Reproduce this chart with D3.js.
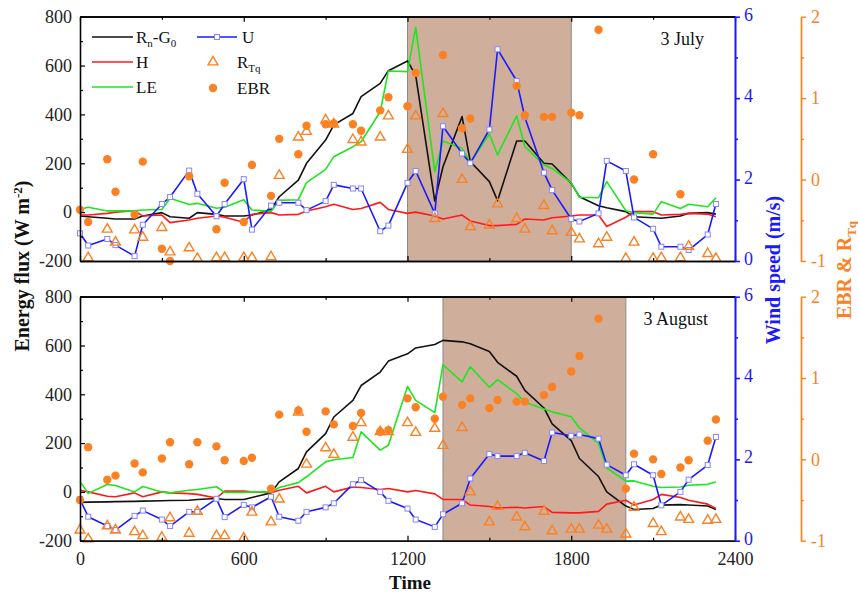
<!DOCTYPE html>
<html>
<head>
<meta charset="utf-8">
<script src="https://cdn.jsdelivr.net/npm/d3@7"></script>
<style>
  body { margin: 0; background: #fff; }
  svg text { font-family: "Liberation Serif", "Times New Roman", serif; }
</style>
</head>
<body>
<div id="chart"></div>
<script>
// time of day (hhmm), half-hour steps
var times = [0,30,100,130,200,230,300,330,400,430,500,530,600,630,700,730,800,830,900,930,
  1000,1030,1100,1130,1200,1230,1300,1330,1400,1430,1500,1530,1600,1630,1700,1730,1800,1830,1900,1930,
  2000,2030,2100,2130,2200,2230,2300,2330];

// 3 July
var rnJul = [-16,-19,-25,-28,-28,-16,-2,-19,-25,-2,-9,-16,-16,-12,11,63,131,200,295,357,
  404,473,527,579,619,560,45,186,391,207,125,47,291,291,200,197,118,63,26,18,
  2,-19,-23,-25,-16,-5,-2,-8];
var hJul = [-12,-12,-5,0,6,-16,-12,-43,-32,-25,-16,-21,-41,-9,-2,-12,-9,5,22,32,
  11,15,40,11,-5,0,-16,-28,-12,-36,-55,-55,-50,-28,-32,-23,-16,-12,-12,-59,
  -21,2,2,-12,-9,-5,-8,-19];
var leJul = [12,20,5,5,5,9,11,57,31,36,16,20,51,9,3,48,51,121,175,227,
  268,288,411,578,575,757,166,291,261,202,320,234,394,268,193,179,120,61,59,125,
  6,-2,-8,43,15,32,22,59];
var uJul = [0.68,0.38,0.54,0.39,0.12,0.89,1.40,1.57,2.22,1.65,1.10,1.40,2.01,0.77,1.36,1.43,1.43,1.25,1.47,1.87,
  1.78,1.78,0.73,0.87,1.92,2.21,1.17,3.31,2.64,2.40,3.23,5.20,4.42,3.53,2.17,1.74,1.03,0.97,1.17,2.46,
  2.21,1.07,0.79,0.35,0.35,0.27,0.65,1.40];
var rtqJul = [null,-0.96,-0.61,-0.77,-0.62,-0.71,-0.59,-0.89,-0.84,-0.97,-0.96,-0.96,-0.96,-0.96,-0.95,0.05,0.52,0.59,0.73,0.68,
  0.49,0.46,0.52,0.78,0.37,0.78,-0.48,0.81,0.0,-0.58,-0.56,-0.30,-0.48,-0.61,-0.32,-0.63,-0.65,-0.73,-0.79,-0.71,
  -0.97,-0.77,-0.97,-0.96,-0.96,-0.82,-0.91,-0.97];
var ebrJul = [-0.37,-0.52,0.25,-0.15,-0.43,0.22,-0.85,-1.0,0.04,null,-0.61,-0.04,-0.52,0.18,-0.20,0.50,0.31,0.66,0.68,0.69,
  0.68,0.60,0.85,1.01,0.90,1.31,null,1.53,0.63,0.75,null,null,1.15,0.79,0.77,0.77,0.82,0.79,1.84,null,
  null,0.0,0.31,null,-0.18,null,null,null];

// 3 August
var rnAug = [-43,-42,-41,-40,-39,-38,-36,-35,-34,-31,-27,-31,-31,-23,-4,41,96,164,239,307,
  375,436,491,536,566,590,604,621,615,607,575,531,474,416,344,279,210,137,63,0,
  -58,-72,-68,-54,-52,-54,-58,-72];
var hAug = [7,0,-18,-20,-4,-20,0,-4,-7,-10,-25,3,3,0,-3,7,23,-4,23,0,
  20,18,10,14,0,6,-8,-31,-31,-54,-60,-66,-63,-66,-60,-84,-86,-86,-80,-50,
  -34,-54,-31,-10,-23,-34,-50,-68];
var leAug = [43,-6,30,26,0,22,0,-4,7,10,21,-2,-2,0,0,18,38,62,123,132,
  141,246,171,191,432,375,325,521,451,513,429,460,403,367,340,328,308,262,199,98,
  44,45,23,18,20,27,31,41];
var uAug = [1.02,0.59,0.36,0.26,0.61,0.74,0.52,0.36,0.71,0.71,1.03,0.58,0.88,0.82,1.08,0.59,0.49,0.71,0.82,0.92,
  1.39,1.49,1.20,0.98,0.79,0.52,0.34,0.65,0.92,1.53,2.13,2.08,2.08,2.16,1.96,2.66,2.58,2.61,2.51,1.87,
  1.61,1.88,1.61,0.87,1.20,1.50,1.86,2.55];
var rtqAug = [-0.87,-0.98,-0.82,-0.87,-0.89,-0.94,-0.96,-0.72,-0.91,-0.64,-0.94,-0.94,-0.97,-0.65,-0.77,-0.49,0.58,-0.06,0.14,0.06,
  0.27,0.45,0.34,0.34,0.45,0.33,0.38,0.17,0.39,-0.40,-0.77,-0.58,-0.71,-0.83,-0.64,-0.88,-0.86,-0.86,-0.81,-0.86,
  -0.92,-0.59,-0.79,-0.89,-0.71,-0.74,-0.75,-0.74];
var ebrAug = [-0.50,0.15,-0.25,-0.20,-0.05,-0.16,0.01,0.21,-0.06,0.21,0.16,-0.01,-0.02,0.02,-0.36,0.55,0.60,0.34,0.59,0.43,
  0.41,0.57,0.34,0.36,0.75,0.64,0.50,0.77,0.67,0.75,0.63,0.73,0.71,0.71,0.79,0.89,1.08,1.27,1.73,null,
  -0.36,0.07,0.00,-0.18,-0.10,-0.01,0.23,0.49];

// shaded periods
var shadeJul = [1200, 1800];
var shadeAug = [1330, 2000];

var xTicks = [0, 600, 1200, 1800, 2400];
var xMinor = [300, 900, 1500, 2100];
var eTicks = [-200, 0, 200, 400, 600, 800];
var eMinor = [-100, 100, 300, 500, 700];
var uTicks = [0, 2, 4, 6];
var uMinor = [1, 3, 5];
var rTicks = [-1, 0, 1, 2];
var rMinor = [-0.5, 0.5, 1.5];

var cBlack = "#111", cRed = "#ff1a1a", cGreen = "#1ee61e", cBlue = "#1a1aff",
    cMark = "#8585ff", cOrange = "#fb8122", cShade = "#d0ae9c";

var svg = d3.select("#chart").append("svg")
    .attr("width", 858)
    .attr("height", 592);

var x = d3.scaleLinear().domain([0, 2400]).range([80, 735]);

var panels = [
  {top: 16.7, bottom: 261, name: "3 July", nameX: 704, nameY: 45, shade: shadeJul,
   rn: rnJul, h: hJul, le: leJul, u: uJul, rtq: rtqJul, ebr: ebrJul, labels: false, legend: true},
  {top: 296.7, bottom: 540.7, name: "3 August", nameX: 708, nameY: 325, shade: shadeAug,
   rn: rnAug, h: hAug, le: leAug, u: uAug, rtq: rtqAug, ebr: ebrAug, labels: true, legend: false}
];

function numFmt(d) { return String(d); }

panels.forEach(function(p) {
  var yE = d3.scaleLinear().domain([-200, 800]).range([p.bottom, p.top]);
  var yU = d3.scaleLinear().domain([0, 6]).range([p.bottom, p.top]);
  var yR = d3.scaleLinear().domain([-1, 2]).range([p.bottom, p.top]);
  var g = svg.append("g");

  // shaded period
  g.append("rect")
    .attr("x", x(p.shade[0])).attr("y", p.top)
    .attr("width", x(p.shade[1]) - x(p.shade[0]))
    .attr("height", p.bottom - p.top)
    .attr("fill", cShade);
  p.shade.forEach(function(t) {
    g.append("line")
      .attr("x1", x(t)).attr("x2", x(t))
      .attr("y1", p.top).attr("y2", p.bottom)
      .attr("stroke", "#8a8a8a").attr("stroke-width", 1);
  });

  // series lines
  var idx = d3.range(times.length);
  function drawLine(vals, scale, color) {
    var line = d3.line()
      .defined(function(i) { return vals[i] != null; })
      .x(function(i) { return x(times[i]); })
      .y(function(i) { return scale(vals[i]); });
    g.append("path").datum(idx)
      .attr("d", line)
      .attr("fill", "none")
      .attr("stroke", color)
      .attr("stroke-width", 1.6)
      .attr("stroke-linejoin", "round");
  }
  drawLine(p.rn, yE, cBlack);
  drawLine(p.h, yE, cRed);
  drawLine(p.le, yE, cGreen);
  drawLine(p.u, yU, cBlue);

  // wind speed markers
  g.selectAll(".sq").data(idx).enter().append("rect")
    .attr("x", function(i) { return x(times[i]) - 2.5; })
    .attr("y", function(i) { return yU(p.u[i]) - 2.5; })
    .attr("width", 5).attr("height", 5)
    .attr("fill", "#fff").attr("stroke", cMark).attr("stroke-width", 1);

  // RTq triangles
  var tri = d3.symbol().type(d3.symbolTriangle).size(42);
  g.selectAll(".tri").data(idx.filter(function(i) { return p.rtq[i] != null; })).enter()
    .append("path")
    .attr("d", tri)
    .attr("transform", function(i) { return "translate(" + x(times[i]) + "," + yR(p.rtq[i]) + ")"; })
    .attr("fill", "none").attr("stroke", cOrange).attr("stroke-width", 1.4);

  // EBR dots
  g.selectAll(".dot").data(idx.filter(function(i) { return p.ebr[i] != null; })).enter()
    .append("circle")
    .attr("cx", function(i) { return x(times[i]); })
    .attr("cy", function(i) { return yR(p.ebr[i]); })
    .attr("r", 4.2)
    .attr("fill", cOrange);

  // frame and axes
  g.append("line").attr("x1", 80).attr("x2", 735).attr("y1", p.top).attr("y2", p.top)
    .attr("stroke", "#333").attr("stroke-width", 1.3);

  g.append("g").attr("transform", "translate(80,0)")
    .call(d3.axisLeft(yE).tickValues(eTicks).tickSize(-5).tickSizeOuter(0).tickPadding(8).tickFormat(numFmt));
  g.append("g").attr("transform", "translate(80,0)")
    .call(d3.axisLeft(yE).tickValues(eMinor).tickSize(-3).tickSizeOuter(0).tickFormat(""));

  g.append("g").attr("transform", "translate(0," + p.bottom + ")")
    .call(d3.axisBottom(x).tickValues(xTicks).tickSize(-5).tickSizeOuter(0).tickPadding(12)
      .tickFormat(p.labels ? numFmt : ""));
  g.append("g").attr("transform", "translate(0," + p.bottom + ")")
    .call(d3.axisBottom(x).tickValues(xMinor).tickSize(-3).tickSizeOuter(0).tickFormat(""));
  g.append("g").attr("transform", "translate(0," + p.top + ")")
    .call(d3.axisTop(x).tickValues(xTicks).tickSize(-5).tickSizeOuter(0).tickFormat(""));
  g.append("g").attr("transform", "translate(0," + p.top + ")")
    .call(d3.axisTop(x).tickValues(xMinor).tickSize(-3).tickSizeOuter(0).tickFormat(""));

  g.append("g").attr("class", "blue").attr("transform", "translate(735,0)")
    .call(d3.axisRight(yU).tickValues(uTicks).tickSize(5).tickSizeOuter(0).tickPadding(4).tickFormat(numFmt));
  g.append("g").attr("class", "blue").attr("transform", "translate(735,0)")
    .call(d3.axisRight(yU).tickValues(uMinor).tickSize(3).tickSizeOuter(0).tickFormat(""));

  g.append("g").attr("class", "orange").attr("transform", "translate(801,0)")
    .call(d3.axisRight(yR).tickValues(rTicks).tickSize(5).tickSizeOuter(0).tickPadding(5).tickFormat(numFmt));
  g.append("g").attr("class", "orange").attr("transform", "translate(801,0)")
    .call(d3.axisRight(yR).tickValues(rMinor).tickSize(3).tickSizeOuter(0).tickFormat(""));

  g.selectAll(".domain").attr("stroke-width", 1.3);
  g.selectAll(".tick line").attr("stroke-width", 1.2);
  g.selectAll(".tick text").attr("font-size", 18).attr("font-family", "Liberation Serif").attr("fill", "#222");
  g.selectAll(".blue .domain, .blue .tick line").attr("stroke", cBlue).attr("stroke-width", 1.6);
  g.selectAll(".blue .tick text").attr("fill", cBlue).attr("dy", "0.2em");
  g.selectAll(".orange .domain, .orange .tick line").attr("stroke", cOrange).attr("stroke-width", 1.4);
  g.selectAll(".orange .tick text").attr("fill", cOrange);

  // panel name
  g.append("text")
    .attr("x", p.nameX).attr("y", p.nameY)
    .attr("text-anchor", "end")
    .attr("font-size", 18)
    .attr("fill", "#111")
    .text(p.name);

  if (p.legend) {
    var lg = g.append("g").attr("font-size", 17).attr("fill", "#111");
    var rowsL = [
      {c: cBlack, y: 37}, {c: cRed, y: 62}, {c: cGreen, y: 87}
    ];
    rowsL.forEach(function(r) {
      lg.append("line").attr("x1", 92).attr("x2", 133).attr("y1", r.y).attr("y2", r.y)
        .attr("stroke", r.c).attr("stroke-width", 1.6);
    });
    var t1 = lg.append("text").attr("x", 136).attr("y", 43);
    t1.append("tspan").text("R");
    t1.append("tspan").attr("font-size", 11).attr("dy", 4).text("n");
    t1.append("tspan").attr("dy", -4).text("-G");
    t1.append("tspan").attr("font-size", 11).attr("dy", 4).text("0");
    lg.append("text").attr("x", 136).attr("y", 68).text("H");
    lg.append("text").attr("x", 136).attr("y", 93).text("LE");

    lg.append("line").attr("x1", 197).attr("x2", 237).attr("y1", 37).attr("y2", 37)
      .attr("stroke", cBlue).attr("stroke-width", 1.6);
    lg.append("rect").attr("x", 214.5).attr("y", 34.5).attr("width", 5).attr("height", 5)
      .attr("fill", "#fff").attr("stroke", cMark);
    lg.append("text").attr("x", 242).attr("y", 43).text("U");
    lg.append("path").attr("d", d3.symbol().type(d3.symbolTriangle).size(42))
      .attr("transform", "translate(213,62)")
      .attr("fill", "none").attr("stroke", cOrange).attr("stroke-width", 1.4);
    var t2 = lg.append("text").attr("x", 237).attr("y", 68);
    t2.append("tspan").text("R");
    t2.append("tspan").attr("font-size", 11).attr("dy", 4).text("Tq");
    lg.append("circle").attr("cx", 213).attr("cy", 88).attr("r", 4.2).attr("fill", cOrange);
    lg.append("text").attr("x", 237).attr("y", 94).text("EBR");
  }
});

// axis titles
svg.append("text")
  .attr("transform", "translate(29,266) rotate(-90)")
  .attr("text-anchor", "middle")
  .attr("font-size", 20).attr("font-weight", "bold").attr("fill", "#111")
  .call(function(t) {
    t.append("tspan").text("Energy flux (W m");
    t.append("tspan").attr("font-size", 13).attr("dy", -7).text("-2");
    t.append("tspan").attr("dy", 7).text(")");
  });

svg.append("text")
  .attr("transform", "translate(780,270) rotate(-90)")
  .attr("text-anchor", "middle")
  .attr("font-size", 20).attr("font-weight", "bold").attr("fill", cBlue)
  .text("Wind speed (m/s)");

svg.append("text")
  .attr("transform", "translate(851,270) rotate(-90)")
  .attr("text-anchor", "middle")
  .attr("font-size", 20).attr("font-weight", "bold").attr("fill", cOrange)
  .call(function(t) {
    t.append("tspan").text("EBR & R");
    t.append("tspan").attr("font-size", 13).attr("dy", 5).text("Tq");
  });

svg.append("text")
  .attr("x", 410).attr("y", 589)
  .attr("text-anchor", "middle")
  .attr("font-size", 19).attr("font-weight", "bold").attr("fill", "#111")
  .text("Time");
</script>
</body>
</html>
